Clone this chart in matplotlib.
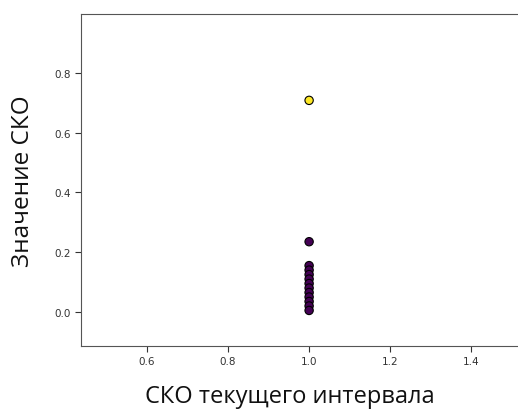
import matplotlib
matplotlib.use("Agg")
import matplotlib.pyplot as plt

# interval std (x) vs std value (y); label picks the colour
x_vals = [1.0] * 13
y_vals = [0.708, 0.235, 0.155, 0.14, 0.125, 0.11, 0.095, 0.08, 0.065, 0.05, 0.035, 0.02, 0.005]
labels = [1, 0, 0, 0, 0, 0, 0, 0, 0, 0, 0, 0, 0]

x_ticks = [0.6, 0.8, 1.0, 1.2, 1.4]
y_ticks = [0.0, 0.2, 0.4, 0.6, 0.8]

fig = plt.figure(figsize=(5.18, 4.10), dpi=100)
# the axes runs past the right edge, as in the cropped original
ax = fig.add_axes([81 / 518, 63 / 410, 455 / 518, 332 / 410])

ax.scatter(x_vals, y_vals, c=labels, cmap="viridis", edgecolors="black",
           linewidths=0.8, s=36, zorder=3)

ax.set_xlim(0.437, 1.56)
ax.set_ylim(-0.114, 0.997)
ax.set_xticks(x_ticks)
ax.set_yticks(y_ticks)
ax.tick_params(labelsize=7.5, colors="#333333", length=4)
for sp in ax.spines.values():
    sp.set_color("#555555")
ax.spines["right"].set_visible(False)

fig.text(290 / 518, 1 - 403 / 410, "СКО текущего интервала", ha="center", va="baseline",
         fontsize=17, family="Open Sans", color="#111111")
fig.text(23 / 518, 1 - 181 / 410, "Значение СКО", ha="center", va="center",
         rotation=90, fontsize=17.5, family="Open Sans", color="#111111")

fig.savefig("out.png", dpi=100)
